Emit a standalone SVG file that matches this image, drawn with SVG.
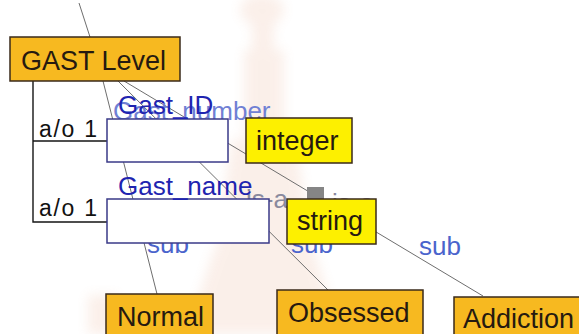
<svg xmlns="http://www.w3.org/2000/svg" width="579" height="334" viewBox="0 0 579 334">
  <defs>
    <filter id="soft" x="-20%" y="-20%" width="140%" height="140%">
      <feGaussianBlur stdDeviation="6"/>
    </filter>
    <style>
      text { font-family: "Liberation Sans", Arial, sans-serif; }
      .concept rect { fill: #F7B920; stroke: #3a2a1a; stroke-width: 1.5; }
      .type rect { fill: #FDF000; stroke: #3a2a1a; stroke-width: 1.5; }
      .attr rect { fill: #FFFFFF; stroke: #3a3a88; stroke-width: 1.5; }
      .lbl { font-size: 27px; fill: #261a10; }
      .alab { font-size: 26px; fill: #1f24b0; }
      .ao { font-size: 23px; fill: #111111; }
      .sub { font-size: 26px; fill: #4a64cc; }
      .faint { font-size: 26px; fill: #8a8a9e; }
      .ghost { font-size: 26px; fill: #7080d4; }
      .link { stroke: #6e6e6e; stroke-width: 1; fill: none; }
      .tree { stroke: #151515; stroke-width: 1.4; fill: none; }
    </style>
  </defs>

  <rect x="0" y="0" width="579" height="334" fill="#ffffff"/>

  <!-- faded background watermark (tower) -->
  <g id="watermark" filter="url(#soft)" opacity="0.13" fill="#e08a5e">
    <ellipse cx="262" cy="10" rx="22" ry="16"/>
    <rect x="252" y="18" width="22" height="40"/>
    <rect x="244" y="50" width="40" height="90"/>
    <path d="M232 140 L296 140 L312 250 L216 250 Z"/>
    <path d="M214 250 L314 250 L340 334 L186 334 Z"/>
    <rect x="88" y="295" width="30" height="39"/>
  </g>

  <!-- connectors -->
  <g id="connectors">
    <line class="link" x1="79" y1="3" x2="90" y2="37"/>
    <line class="link" x1="103" y1="81" x2="157" y2="294"/>
    <line class="link" x1="118" y1="81" x2="328" y2="290"/>
    <line class="link" x1="124" y1="81" x2="483" y2="296"/>
    <polyline class="tree" points="33,81 33,222 107,222"/>
    <line class="tree" x1="33" y1="141" x2="107" y2="141"/>
    <rect x="307" y="187" width="17" height="17" fill="#858585"/>
    <text class="faint" x="246" y="208">is-a</text>
    <text class="faint" x="332" y="212">is-a</text>
    <text class="sub" x="147" y="253">sub</text>
    <text class="sub" x="291" y="253">sub</text>
    <text class="sub" x="419" y="255">sub</text>
    <text class="ghost" x="113" y="120">Gast_number</text>
  </g>

  <g id="gast_level" class="concept">
    <rect x="10" y="37" width="170" height="44"/>
    <text class="lbl" x="21" y="70">GAST Level</text>
  </g>

  <g id="gast_id" class="attr">
    <text class="ao" x="39" y="137" textLength="58">a/o 1</text>
    <rect x="107" y="119" width="121" height="43"/>
    <text class="alab" x="118" y="114">Gast_ID</text>
  </g>

  <g id="gast_name" class="attr">
    <text class="ao" x="39" y="216" textLength="58">a/o 1</text>
    <rect x="107" y="199" width="162" height="44"/>
    <text class="alab" x="118" y="195">Gast_name</text>
  </g>

  <g id="integer" class="type">
    <rect x="246" y="118" width="106" height="45"/>
    <text class="lbl" x="256" y="150">integer</text>
  </g>

  <g id="string" class="type">
    <rect x="287" y="199" width="89" height="45"/>
    <text class="lbl" x="297" y="230">string</text>
  </g>

  <g id="normal" class="concept">
    <rect x="106" y="294" width="107" height="48"/>
    <text class="lbl" x="117" y="326">Normal</text>
  </g>

  <g id="obsessed" class="concept">
    <rect x="277" y="290" width="146" height="52"/>
    <text class="lbl" x="288" y="322">Obsessed</text>
  </g>

  <g id="addiction" class="concept">
    <rect x="454" y="297" width="130" height="45"/>
    <text class="lbl" x="463" y="328">Addiction</text>
  </g>
</svg>
